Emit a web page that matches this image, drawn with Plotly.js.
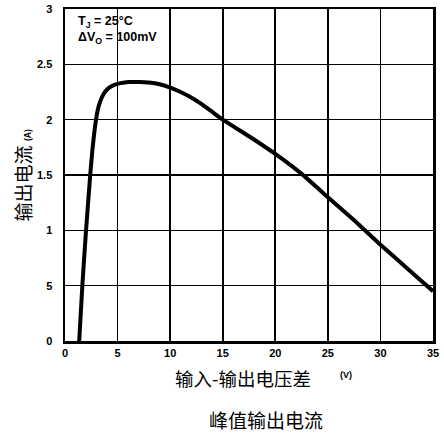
<!DOCTYPE html>
<html><head><meta charset="utf-8">
<script src="https://cdn.plot.ly/plotly-3.0.1.min.js"></script>
<style>html,body{margin:0;padding:0;background:#fff}#c{width:444px;height:436px}</style>
</head><body><div id="c"></div>
<script>
const voltageDiff = [1.35,1.65,2.0,2.4,2.6,2.95,3.2,3.5,3.8,4.2,4.7,5.3,6,7,8,9,10,11,12,13,14,15,17.5,20,22.5,25,27.5,30,32.5,35];
const outputCurrent = [0,0.5,1.0,1.5,1.72,2.0,2.12,2.2,2.25,2.29,2.315,2.33,2.34,2.34,2.335,2.32,2.29,2.25,2.2,2.14,2.07,2.0,1.85,1.69,1.51,1.3,1.09,0.87,0.66,0.45];
const xTickVals = [0,5,10,15,20,25,30,35];
const xTickText = ['0','5','10','15','20','25','30','35'];
const yTickVals = [0,0.5,1,1.5,2,2.5,3];
const yTickText = ['0','5','1','1.5','2','2.5','3'];

const tickFont = {family:'Liberation Sans, Arial, sans-serif', size:11, color:'#000', weight:'bold'};
const cjk = 'Noto Sans CJK SC';

Plotly.newPlot('c', [{
  x: voltageDiff, y: outputCurrent, type:'scatter', mode:'lines',
  line:{color:'#000', width:4, shape:'spline', smoothing:0.5}, hoverinfo:'skip'
}], {
  width:444, height:436,
  margin:{l:65, r:11, t:9, b:95},
  paper_bgcolor:'#fff', plot_bgcolor:'#fff',
  showlegend:false,
  xaxis:{range:[0,35], tickvals:xTickVals, ticktext:xTickText, showgrid:true, gridcolor:'#000', gridwidth:1.6,
    zeroline:false, showline:true, linecolor:'#000', linewidth:2.5, mirror:true, ticks:'', tickfont:tickFont,
    ticklabelstandoff:0, fixedrange:true},
  yaxis:{range:[0,3], tickvals:yTickVals, ticktext:yTickText, showgrid:true, gridcolor:'#000', gridwidth:1.6,
    zeroline:false, showline:true, linecolor:'#000', linewidth:2.5, mirror:true, ticks:'', tickfont:tickFont,
    ticklabelstandoff:8, fixedrange:true},
  annotations:[
    {xref:'paper', yref:'paper', x:0.03, y:0.99, xanchor:'left', yanchor:'top', showarrow:false, align:'left',
     text:'<b>T<sub>J</sub> = 25°C<br>ΔV<sub>O</sub> = 100mV</b>', font:{family:'Liberation Sans, Arial, sans-serif', size:12.5, color:'#000'}},
    {xref:'paper', yref:'paper', x:0.484, y:-0.111, xanchor:'center', yanchor:'middle', showarrow:false,
     text:'输入-输出电压差', font:{family:cjk, size:18.5, color:'#000'}},
    {xref:'paper', yref:'paper', x:0.764, y:-0.103, xanchor:'center', yanchor:'middle', showarrow:false,
     text:'<b>(V)</b>', font:{family:'Liberation Sans, Arial, sans-serif', size:9, color:'#000'}},
    {xref:'paper', yref:'paper', x:0.546, y:-0.237, xanchor:'center', yanchor:'middle', showarrow:false,
     text:'峰值输出电流', font:{family:cjk, size:19, color:'#000'}},
    {xref:'paper', yref:'paper', x:-0.118, y:0.5, xanchor:'center', yanchor:'middle', showarrow:false, textangle:-90,
     text:'输出电流 <span style="font-size:9px"><b>(A)</b></span>', font:{family:cjk, size:19, color:'#000'}}
  ]
}, {displayModeBar:false, staticPlot:true});
</script></body></html>
